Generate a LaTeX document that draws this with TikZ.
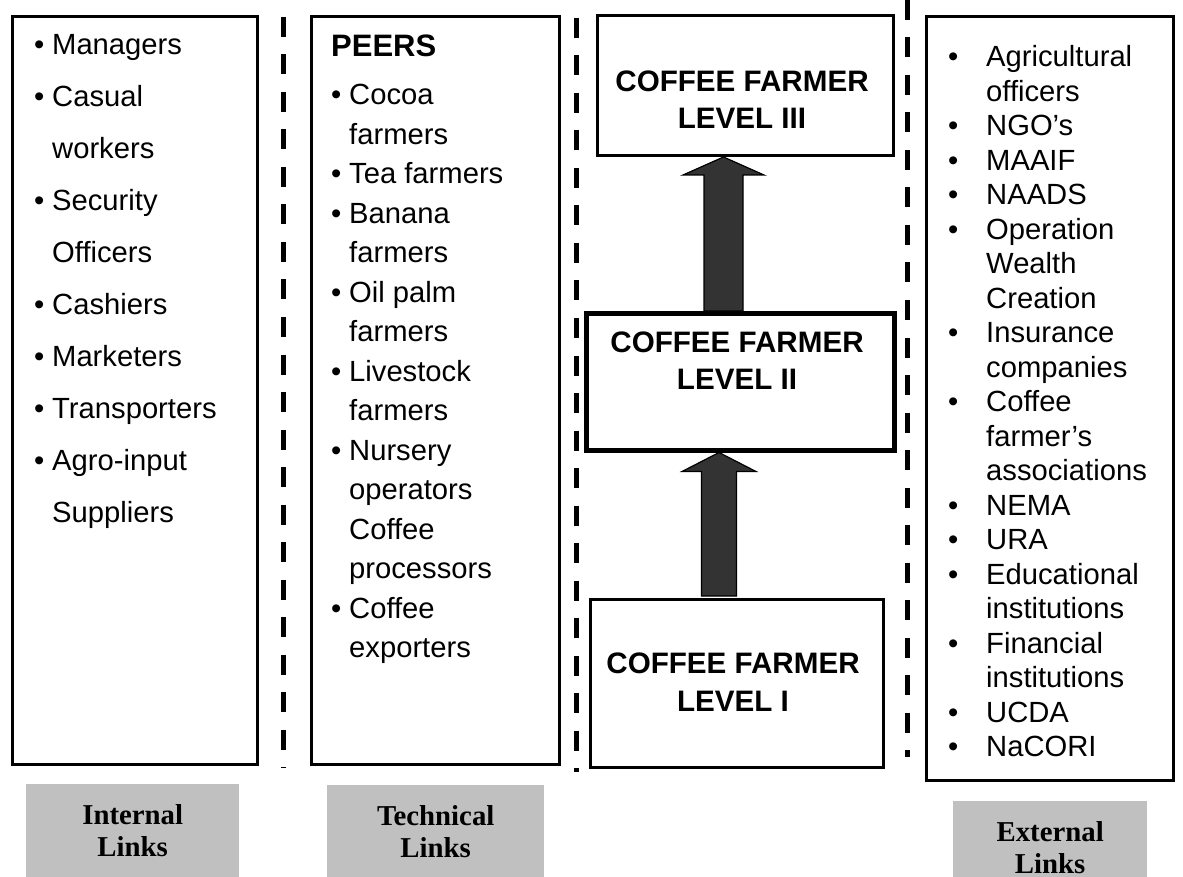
\documentclass[tikz,border=0pt]{standalone}
\usepackage{fontspec}
\setmainfont{Liberation Sans}
\newfontfamily\labelserif{Liberation Serif}
\usetikzlibrary{calc}
\definecolor{lblgray}{RGB}{192,192,192}
\definecolor{arrfill}{RGB}{51,51,51}
\newcommand\bodyfont[1]{\fontsize{29.2}{#1}\selectfont}
\newcommand\levelfont[1]{\fontsize{29.6}{#1}\selectfont}
\begin{document}
\begin{tikzpicture}[x=1pt,y=-1pt,
  box/.style={draw=black,line width=3pt,fill=white,inner sep=0pt,anchor=north west},
  sepline/.style={line width=5pt,dash pattern=on 20pt off 17.5pt},
  lbl/.style={fill=lblgray,inner sep=0pt,anchor=north west,align=center,
    font=\labelserif\bfseries\fontsize{28.8}{32}\selectfont},
  blk/.style={draw=black,line width=1.2pt,fill=arrfill,line join=miter},
  lst/.style={inner sep=0pt,anchor=base west},
  lvl/.style={inner sep=0pt,anchor=base}]
\useasboundingbox (0,0) rectangle (1183,877);
\clip (0,0) rectangle (1183,877);

% separators
\draw[sepline] (283,17) -- (283,768);
\draw[sepline] (576,18) -- (576,772);
\draw[sepline] (907,0) -- (907,757);

% boxes
\node[box,minimum width=245pt,minimum height=748pt] (int) at (11,15) {};
\node[box,minimum width=248pt,minimum height=748pt] (tech) at (310,15) {};
\node[box,minimum width=296pt,minimum height=140pt] (lvlthree) at (596,14) {};
\node[box,line width=4.5pt,minimum width=308pt,minimum height=137pt] (lvltwo) at (584,311) {};
\node[box,minimum width=293pt,minimum height=168pt] (lvlone) at (589,598) {};
\node[box,minimum width=247pt,minimum height=764pt] (ext) at (925,15) {};

% lists
\node[lst] (intlist) at (34,55) {\bodyfont{52}\begin{tabular}[t]{@{}p{18pt}@{}l@{}}
•&Managers\\
•&Casual\\
&workers\\
•&Security\\
&Officers\\
•&Cashiers\\
•&Marketers\\
•&Transporters\\
•&Agro-input\\
&Suppliers
\end{tabular}};

\node[lst] (techlist) at (331,57) {\bodyfont{39.5}\begin{tabular}[t]{@{}p{18pt}@{}l@{}}
\multicolumn{2}{@{}l@{}}{\bfseries\fontsize{31}{39.5}\selectfont PEERS}\\[8.5pt]
•&Cocoa\\
&farmers\\
•&Tea farmers\\
•&Banana\\
&farmers\\
•&Oil palm\\
&farmers\\
•&Livestock\\
&farmers\\
•&Nursery\\
&operators\\
&Coffee\\
&processors\\
•&Coffee\\
&exporters
\end{tabular}};

\node[lst] (extlist) at (948,67) {\bodyfont{34.5}\begin{tabular}[t]{@{}p{38pt}@{}l@{}}
•&Agricultural\\
&officers\\
•&NGO’s\\
•&MAAIF\\
•&NAADS\\
•&Operation\\
&Wealth\\
&Creation\\
•&Insurance\\
&companies\\
•&Coffee\\
&farmer’s\\
&associations\\
•&NEMA\\
•&URA\\
•&Educational\\
&institutions\\
•&Financial\\
&institutions\\
•&UCDA\\
•&NaCORI
\end{tabular}};

% level texts
\node[lvl] (tthree) at (742,92) {\bfseries\levelfont{37}\begin{tabular}[t]{@{}c@{}}COFFEE FARMER\\LEVEL III\end{tabular}};
\node[lvl] (ttwo) at (737,352) {\bfseries\levelfont{37}\begin{tabular}[t]{@{}c@{}}COFFEE FARMER\\LEVEL II\end{tabular}};
\node[lvl] (tone) at (733,673) {\bfseries\levelfont{38}\begin{tabular}[t]{@{}c@{}}COFFEE FARMER\\LEVEL I\end{tabular}};

% block arrows
\coordinate (ca) at (723.5,0);
\coordinate (cb) at (719,0);
\coordinate (tipa) at (ca |- lvlthree.south);
\coordinate (basea) at (ca |- lvltwo.north);
\coordinate (tipb) at (cb |- lvltwo.south);
\coordinate (baseb) at (cb |- lvlone.north);
\draw[blk] ($(basea)+(-19.5,0)$) -- ($(tipa)+(-19.5,18)$) -- ($(tipa)+(-40.5,18)$) -- (tipa)
  -- ($(tipa)+(40.5,18)$) -- ($(tipa)+(19.5,18)$) -- ($(basea)+(19.5,0)$) -- cycle;
\draw[blk] ($(baseb)+(-17.5,-2)$) -- ($(tipb)+(-17.5,19)$) -- ($(tipb)+(-37,19)$) -- (tipb)
  -- ($(tipb)+(37,19)$) -- ($(tipb)+(17.5,19)$) -- ($(baseb)+(17.5,-2)$) -- cycle;

% bottom labels
\node[lbl,minimum width=213pt,minimum height=93pt] (intlbl) at (26,784) {Internal\\Links};
\node[lbl,minimum width=217pt,minimum height=92pt] (techlbl) at (327,785) {Technical\\Links};
\node[lbl,minimum width=194pt,minimum height=92pt] (extlbl) at (953,801) {External\\Links};
\end{tikzpicture}
\end{document}
